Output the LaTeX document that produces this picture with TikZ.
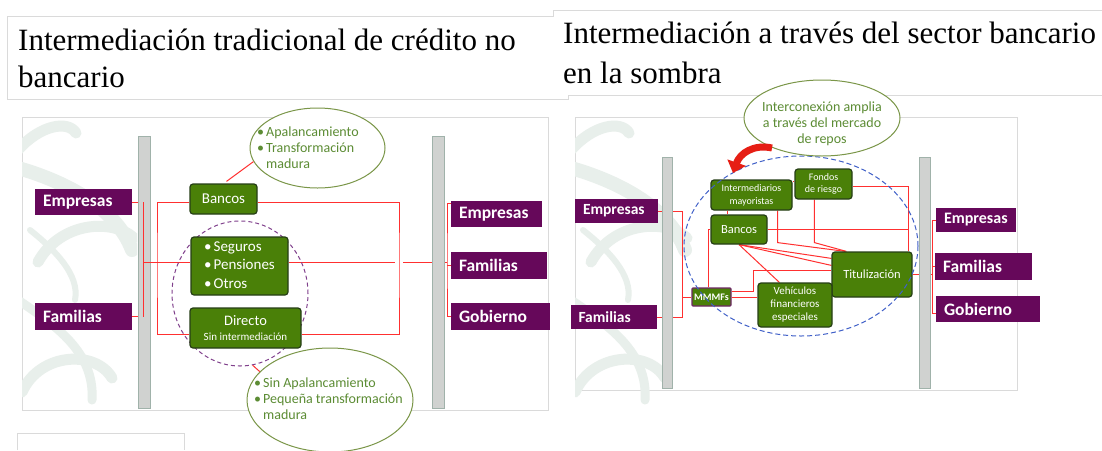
\documentclass[tikz,border=0pt]{standalone}
\usepackage{fontspec}
\setmainfont{Carlito}
\newfontfamily\ttlfont{Liberation Serif}
\usetikzlibrary{shapes.geometric,calc,arrows.meta}
\pgfdeclarelayer{back}
\pgfdeclarelayer{wires}
\pgfsetlayers{back,wires,main}
\definecolor{purp}{RGB}{102,8,90}
\definecolor{gfill}{RGB}{74,128,8}
\definecolor{gdark}{RGB}{38,62,22}
\definecolor{egreen}{RGB}{122,150,72}
\definecolor{etext}{RGB}{92,140,52}
\definecolor{rline}{RGB}{255,48,48}
\definecolor{barfill}{RGB}{208,210,208}
\definecolor{bardraw}{RGB}{160,178,170}
\definecolor{wmark}{RGB}{232,239,235}
\definecolor{frame}{RGB}{218,218,218}
\definecolor{pdash}{RGB}{128,64,140}
\definecolor{bdash}{RGB}{64,96,200}
\definecolor{arrred}{RGB}{230,30,20}
\definecolor{mmdraw}{RGB}{110,40,100}
\tikzset{
 pbox/.style={fill=purp,text=white,inner xsep=8pt,inner ysep=0pt,align=left,anchor=center},
 gbox/.style={fill=gfill,draw=gdark,line width=1.2pt,rounded corners=3pt,text=white,inner sep=0pt,align=center,anchor=center},
 conn/.style={draw=rline,line width=1pt},
 barstyle/.style={fill=barfill,draw=bardraw,line width=0.8pt},
 callout/.style={ellipse,draw=egreen,fill=white,line width=1pt,inner sep=0pt},
 ctext/.style={text=etext,inner sep=0pt,align=left},
 wm/.style={draw=wmark,line cap=round},
 ttl/.style={font=\ttlfont\fontsize{31}{31}\selectfont,inner sep=0pt,anchor=base west},
}
\begin{document}
\begin{tikzpicture}[x=1pt,y=-1pt]
\useasboundingbox (0,0) rectangle (1102,450);

\begin{pgfonlayer}{back}
\fill[white] (0,0) rectangle (1102,450);
% title frames
\draw[frame] (7,99) -- (7,16) -- (553,16) -- (553,10) -- (1110,10);
\draw[frame] (7,99) -- (568,99) -- (568,95) -- (1110,95);
% panels
\draw[frame,fill=white] (22,117) rectangle (548,410);
\draw[frame,fill=white] (575,117) rectangle (1017,390);
\draw[frame] (17,450) -- (17,433) -- (184,433) -- (184,450);
% watermarks
\foreach \dx/\cx in {0/137,553/661}{
\begin{scope}[xshift=\dx]
\clip (22,117) rectangle (\cx,410);
\draw[wm,line width=11pt] (18,150) .. controls (40,125) and (68,120) .. (76,133);
\draw[wm,line width=14pt] (18,168) .. controls (60,180) and (115,205) .. (132,250);
\draw[wm,line width=11pt] (38,262) .. controls (60,222) and (112,218) .. (134,238);
\draw[wm,line width=9pt] (18,300) .. controls (55,325) and (95,352) .. (92,400);
\draw[wm,line width=11pt] (22,392) .. controls (40,352) and (96,350) .. (112,378);
\draw[wm,line width=6pt] (30,230) .. controls (55,250) and (80,275) .. (75,300);
\end{scope}
}
\end{pgfonlayer}

\node[ttl] (tL1) at (18,50) {Intermediación tradicional de crédito no};
\node[ttl] (tL2) at (18,87) {bancario};
\node[ttl] (tR1) at (563,43) {Intermediación a través del sector bancario};
\node[ttl] (tR2) at (563,83) {en la sombra};

% ---------------- left panel ----------------
\node[ellipse,draw=pdash,dash pattern=on 4pt off 3pt,line width=1pt,minimum width=136pt,minimum height=145pt,inner sep=0pt] (pe) at (240,293.5) {};

\node[pbox,text width=81pt,minimum height=26pt,font=\bfseries\fontsize{17.5}{17.5}\selectfont] (lE) at (83.5,202) {Empresas};
\node[pbox,text width=81pt,minimum height=27pt,font=\bfseries\fontsize{17.5}{17.5}\selectfont] (lF) at (83.5,316.5) {Familias};
\node[pbox,text width=75pt,minimum height=26pt,font=\bfseries\fontsize{17.5}{17.5}\selectfont] (rE) at (496.5,214) {Empresas};
\node[pbox,text width=80pt,minimum height=27pt,font=\bfseries\fontsize{17.5}{17.5}\selectfont] (rF) at (499,265.5) {Familias};
\node[pbox,text width=83pt,minimum height=27pt,font=\bfseries\fontsize{17.5}{17.5}\selectfont] (rG) at (500.5,316.5) {Gobierno};

\node[gbox,minimum width=67pt,minimum height=30pt,font=\fontsize{15}{15}\selectfont] (ban) at (223.5,199) {Bancos};
\node[gbox,minimum width=97pt,minimum height=58pt,font=\fontsize{15}{18.5}\selectfont] (seg) at (239.5,266)
 {\begin{tabular}{@{}l@{\hspace{2pt}}l@{}}•&Seguros\\•&Pensiones\\•&Otros\end{tabular}};
\node[gbox,minimum width=111pt,minimum height=40pt,font=\fontsize{11}{15}\selectfont] (dir) at (245.5,328)
 {{\fontsize{14.5}{15}\selectfont Directo}\\Sin intermediación};

\coordinate (jL) at (143,262);
\coordinate (rcL) at (157,262);
\coordinate (rcR) at (399,262);
\coordinate (g1) at (395,262);
\coordinate (g2) at (403,262);
\coordinate (jR) at (447,262);
\begin{pgfonlayer}{wires}
\draw[conn] (lE.east) -| (jL) |- (lF.east);
\draw[conn] (jL) -- (jL -| seg.west);
\draw[conn] ($(ban.west)+(0,3)$) -| (rcL) |- ($(dir.west)+(0,6)$);
\draw[conn] ($(ban.east)+(0,3)$) -| (rcR) |- ($(dir.east)+(0,6)$);
\draw[conn] ($(seg.east)+(0,-4)$) -- (g1);
\draw[conn] (g2) -- (jR);
\draw[conn] ($(rE.west)+(0,-11)$) -| (jR) |- (rG.west);
\draw[conn] (rF.west) -- (rF.west -| jR);
\end{pgfonlayer}

\draw[barstyle] (138,136) rectangle (150,408);
\draw[barstyle] (432,136) rectangle (444,408);
\draw[conn] (jL |- lE.east) -- (jL |- lF.east);
\draw[conn] (jL) -- ($(jL)+(8,0)$);

\node[callout,minimum width=135pt,minimum height=80pt] (eT) at (317.5,148) {};
\node[ctext,anchor=west,font=\fontsize{14}{16}\selectfont] (eTt) at (257,149)
 {\begin{tabular}{@{}l@{\hspace{2pt}}l@{}}•&Apalancamiento\\•&Transformación\\&madura\end{tabular}};
\node[callout,minimum width=166pt,minimum height=104pt] (eB) at (330,400) {};
\node[ctext,anchor=west,font=\fontsize{14}{16}\selectfont] (eBt) at (254,400)
 {\begin{tabular}{@{}l@{\hspace{2pt}}l@{}}•&Sin Apalancamiento\\•&Pequeña transformación\\&madura\end{tabular}};
\draw[conn] ($(ban.north)+(3,-2)$) -- (eT.192);
\draw[conn] (pe.280) -- (eB.158);

% ---------------- right panel ----------------
\node[pbox,text width=67pt,minimum height=24pt,font=\bfseries\fontsize{15.5}{15.5}\selectfont] (pE) at (616.5,211) {Empresas};
\node[pbox,text width=70pt,minimum height=24pt,font=\bfseries\fontsize{15.5}{15.5}\selectfont] (pF) at (613.5,317) {Familias};
\node[pbox,text width=64pt,minimum height=24pt,font=\bfseries\fontsize{16}{16}\selectfont] (qE) at (976,220) {Empresas};
\node[pbox,text width=81pt,minimum height=27pt,font=\bfseries\fontsize{17.5}{17.5}\selectfont] (qF) at (983.5,266.5) {Familias};
\node[pbox,text width=88pt,minimum height=26pt,font=\bfseries\fontsize{17.5}{17.5}\selectfont] (qG) at (988,309) {Gobierno};

\node[gbox,minimum width=81pt,minimum height=30pt,font=\fontsize{10}{13}\selectfont] (im) at (751.5,195) {Intermediarios\\mayoristas};
\node[gbox,minimum width=57pt,minimum height=30pt,font=\fontsize{10}{12}\selectfont] (fr) at (823.5,184) {Fondos\\de riesgo};
\node[gbox,minimum width=56pt,minimum height=29pt,font=\fontsize{12.5}{12.5}\selectfont] (bb) at (739,229.5) {Bancos};
\node[gbox,minimum width=80pt,minimum height=45pt,font=\fontsize{12.5}{12.5}\selectfont] (ti) at (872,274.5) {Titulización};
\node[gbox,minimum width=74pt,minimum height=44pt,font=\fontsize{11}{13}\selectfont] (ve) at (795,305) {Vehículos\\financieros\\especiales};
\node[gbox,draw=mmdraw,rounded corners=1pt,minimum width=39pt,minimum height=18pt,font=\bfseries\fontsize{10}{10}\selectfont] (mm) at (711.5,297) {MMMFs};

\coordinate (jl2) at (682,297);
\coordinate (vx) at (908,186);
\coordinate (kk) at (753,270);
\coordinate (jr2) at (932,270);
\begin{pgfonlayer}{wires}
\begin{scope}[conn]
\draw (pE.east) -| (jl2) |- (pF.east);
\draw (jl2) -- (mm.west);
\draw (mm.east) -- (mm.east -| ve.west);
\draw ($(mm.north)+(-3.5,0)$) |- (bb.west);
\draw ($(mm.east)+(0,-6)$) -| (kk) -- ($(ti.west)+(0,-4.5)$);
\draw ($(im.south west)+(17,0)$) -- ($(bb.north west)+(17,0)$);
\draw ($(im.north east)+(0,2)$) -- ($(fr.north west)+(0,13)$);
\draw ($(fr.east)+(0,2)$) -| ($(ti.north east)+(-4,0)$);
\draw (bb.east) -- (bb.east -| vx);
\draw ($(im.south east)+(-15,0)$) -- ++(0,32) -- ($(ti.north west)+(14,0)$);
\draw ($(fr.south west)+(20,0)$) -- ++(0,43) -- ($(ti.north west)+(15,0)$);
\draw (bb.south) -- ($(ti.north west)+(0,7)$);
\draw (bb.south) -- ($(ti.north west)+(0,14)$);
\draw (bb.south) -- ($(ve.north west)+(22,0)$);
\draw (ti.east) -- (ti.east -| jr2);
\draw (qE.west) -| (jr2) |- ($(qG.west)+(0,4)$);
\draw (qF.west) -- (qF.west -| jr2);
\end{scope}
\end{pgfonlayer}

\draw[barstyle] (662,157) rectangle (672,388);
\draw[barstyle] (919,157) rectangle (930,388);

\node[ellipse,draw=bdash,dash pattern=on 5pt off 3pt,line width=1pt,minimum width=234pt,minimum height=180pt,inner sep=0pt] (be) at (801,246) {};
\node[callout,minimum width=156pt,minimum height=76pt] (eR) at (822,118) {};
\node[ctext,align=center,font=\fontsize{14}{16}\selectfont] (eRt) at (822,124) {Interconexión amplia\\a través del mercado\\de repos};
\draw[arrred,line width=7pt,-{Triangle[width=19pt,length=11pt]}] (772,148) .. controls (754,144) and (740,153) .. (733,173);
\end{tikzpicture}
\end{document}
